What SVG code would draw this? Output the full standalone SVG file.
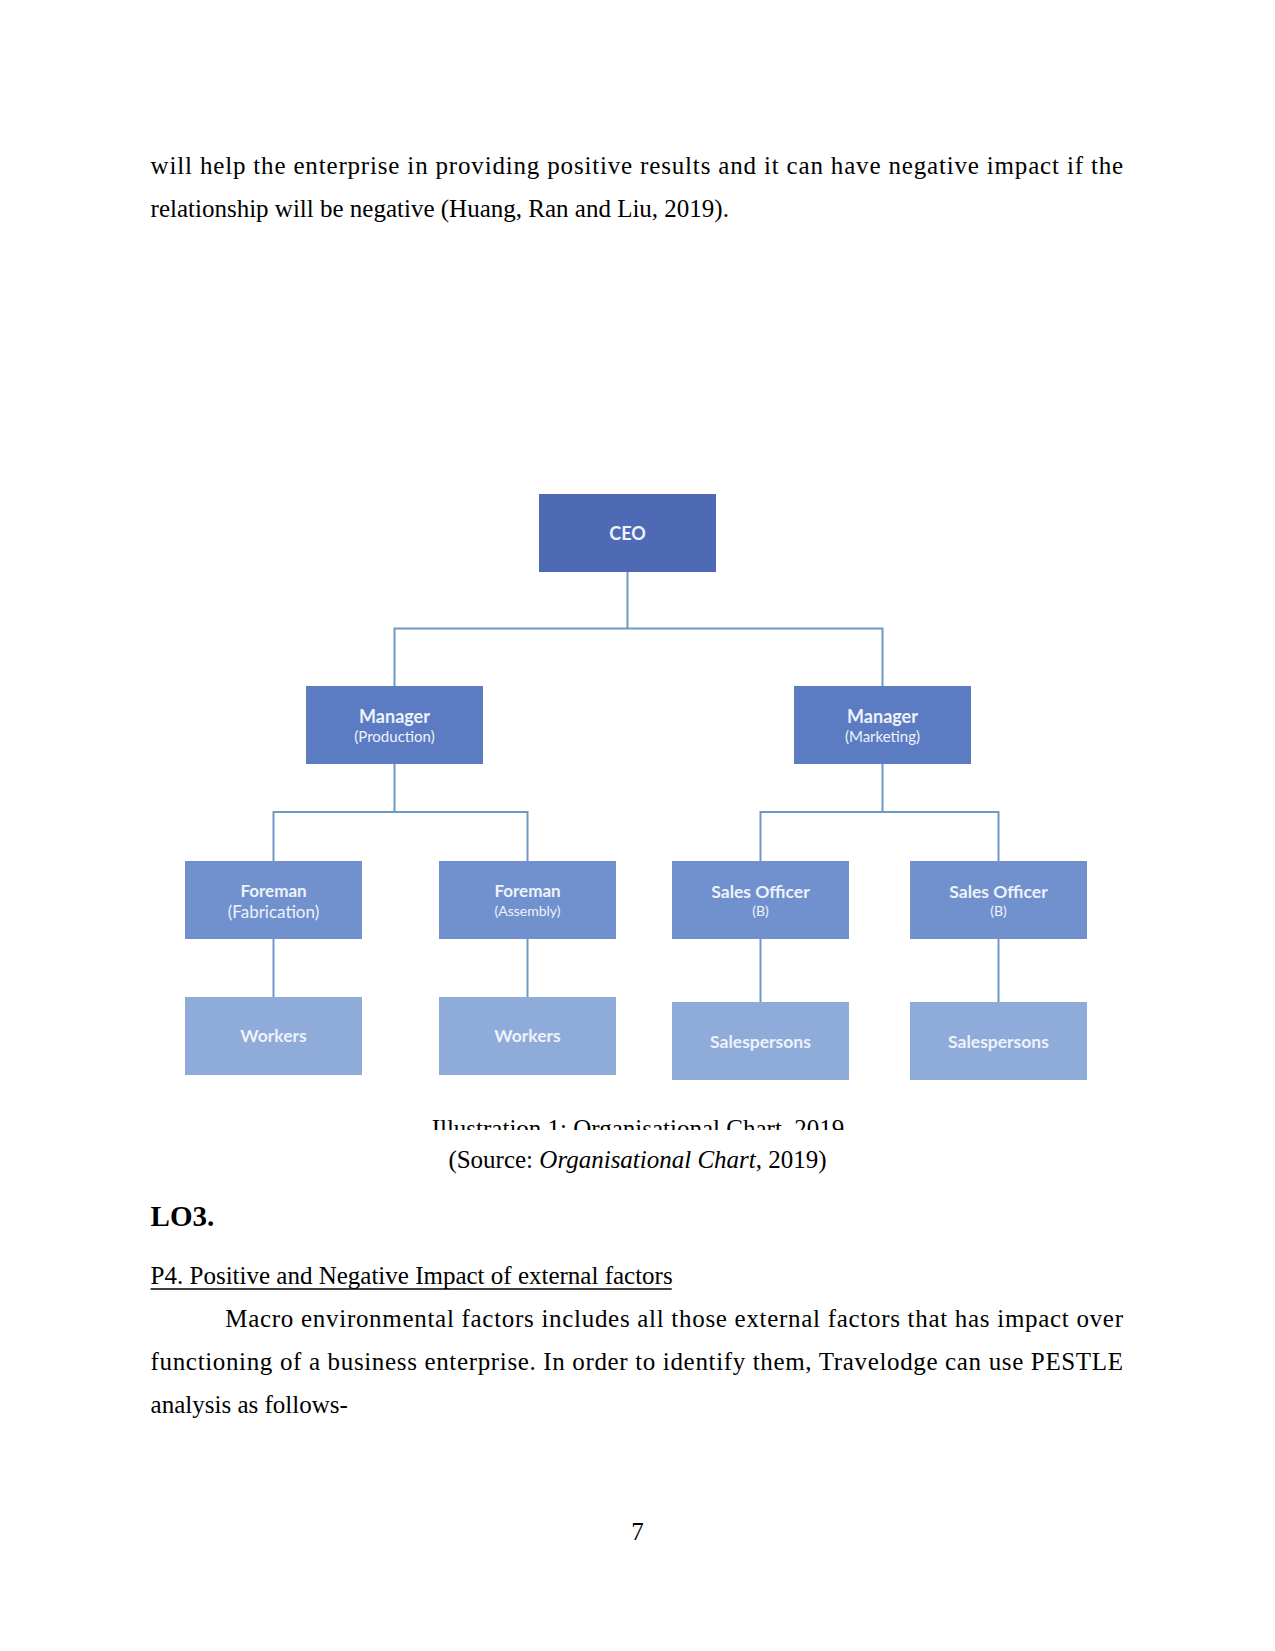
<svg xmlns="http://www.w3.org/2000/svg" width="1275" height="1651" viewBox="0 0 1275 1651">
<style>
.body{font-family:"Liberation Serif","Times New Roman",serif;font-size:25px;fill:#000}
.box text{font-family:Lato,"Open Sans",sans-serif;fill:#eef2fa;text-anchor:middle}
.t{font-weight:bold;font-size:18px}
.s{font-size:15px}
.conn{fill:none;stroke:#6f98c4;stroke-width:2}
.r1{fill:#4f6ab4}
.r2{fill:#5b7cc2}
.r3{fill:#7091cd}
.r4{fill:#8eabd9}
</style>
<defs>
<clipPath id="capclip"><rect x="0" y="1090" width="1275" height="40"/></clipPath>
</defs>
<rect width="1275" height="1651" fill="#fff"/>
<g id="text-top">
<text class="body" x="150.6" y="174" textLength="972.5" lengthAdjust="spacing">will help the enterprise in providing positive results and it can have negative impact if the</text>
<text class="body" x="150.6" y="217">relationship will be negative (Huang, Ran and Liu, 2019).</text>
</g>
<g id="connectors">
<polyline class="conn" points="627.5,572 627.5,628.5"/>
<polyline class="conn" points="394.5,686 394.5,628.5 882.5,628.5 882.5,686"/>
<polyline class="conn" points="394.5,764 394.5,812"/>
<polyline class="conn" points="273.5,861 273.5,812 527.5,812 527.5,861"/>
<polyline class="conn" points="882.5,764 882.5,812"/>
<polyline class="conn" points="760.5,861 760.5,812 998.5,812 998.5,861"/>
<polyline class="conn" points="273.5,939 273.5,997"/>
<polyline class="conn" points="527.5,939 527.5,997"/>
<polyline class="conn" points="760.5,939 760.5,1002"/>
<polyline class="conn" points="998.5,939 998.5,1002"/>
</g>
<g id="ceo" class="box"><rect class="r1" x="539" y="494" width="177" height="78"/><text class="t" x="627.5" y="539.5" font-size="19">CEO</text></g>
<g id="mgr-production" class="box"><rect class="r2" x="306" y="686" width="177" height="78"/><text class="t" x="394.5" y="723">Manager</text><text class="s" x="394.5" y="742">(Production)</text></g>
<g id="mgr-marketing" class="box"><rect class="r2" x="794" y="686" width="177" height="78"/><text class="t" x="882.5" y="723">Manager</text><text class="s" x="882.5" y="742">(Marketing)</text></g>
<g id="foreman-fabrication" class="box"><rect class="r3" x="185" y="861" width="177" height="78"/><text class="t" x="273.5" y="897" style="font-size:17px">Foreman</text><text x="273.5" y="918" style="font-size:17px">(Fabrication)</text></g>
<g id="foreman-assembly" class="box"><rect class="r3" x="439" y="861" width="177" height="78"/><text class="t" x="527.5" y="897" style="font-size:17px">Foreman</text><text x="527.5" y="916" style="font-size:14px">(Assembly)</text></g>
<g id="sales-officer-1" class="box"><rect class="r3" x="672" y="861" width="177" height="78"/><text class="t" x="760.5" y="898" style="font-size:17.5px">Sales Officer</text><text x="760.5" y="916" style="font-size:14px">(B)</text></g>
<g id="sales-officer-2" class="box"><rect class="r3" x="910" y="861" width="177" height="78"/><text class="t" x="998.5" y="898" style="font-size:17.5px">Sales Officer</text><text x="998.5" y="916" style="font-size:14px">(B)</text></g>
<g id="workers-1" class="box"><rect class="r4" x="185" y="997" width="177" height="78"/><text class="t" x="273.5" y="1042" style="font-size:17.5px">Workers</text></g>
<g id="workers-2" class="box"><rect class="r4" x="439" y="997" width="177" height="78"/><text class="t" x="527.5" y="1042" style="font-size:17.5px">Workers</text></g>
<g id="salespersons-1" class="box"><rect class="r4" x="672" y="1002" width="177" height="78"/><text class="t" x="760.5" y="1048" style="font-size:17.5px">Salespersons</text></g>
<g id="salespersons-2" class="box"><rect class="r4" x="910" y="1002" width="177" height="78"/><text class="t" x="998.5" y="1048" style="font-size:17.5px">Salespersons</text></g>
<g id="captions">
<text class="body" x="638" y="1137" text-anchor="middle" clip-path="url(#capclip)">Illustration 1: Organisational Chart, 2019</text>
<text class="body" x="637.5" y="1168" text-anchor="middle">(Source: <tspan font-style="italic">Organisational Chart</tspan>, 2019)</text>
</g>
<g id="text-bottom">
<text class="body" x="150.6" y="1226" font-weight="bold" style="font-size:29px">LO3.</text>
<text class="body" x="150.6" y="1284">P4. Positive and Negative Impact of external factors</text>
<line x1="150.6" y1="1289" x2="671.7" y2="1289" stroke="#000" stroke-width="1.3"/>
<text class="body" x="225.3" y="1327" textLength="897.7" lengthAdjust="spacing">Macro environmental factors includes all those external factors that has impact over</text>
<text class="body" x="150.6" y="1370" textLength="972.4" lengthAdjust="spacing">functioning of a business enterprise. In order to identify them, Travelodge can use PESTLE</text>
<text class="body" x="150.6" y="1413">analysis as follows-</text>
<text class="body" x="637.5" y="1540" text-anchor="middle">7</text>
</g>
</svg>
